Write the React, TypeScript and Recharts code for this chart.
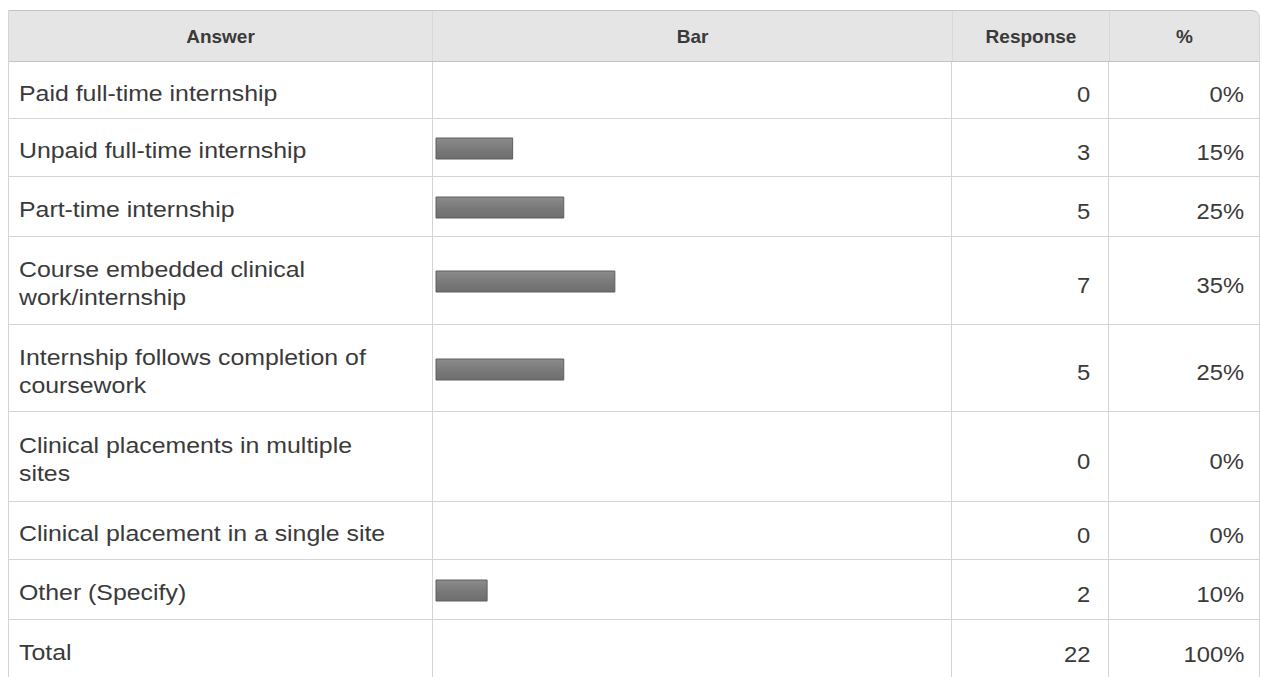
import React from "react";
import { BarChart, Bar, XAxis, YAxis } from "recharts";

const headers = ["Answer", "Bar", "Response", "%"];
const answers = [
  "Paid full-time internship",
  "Unpaid full-time internship",
  "Part-time internship",
  "Course embedded clinical work/internship",
  "Internship follows completion of coursework",
  "Clinical placements in multiple sites",
  "Clinical placement in a single site",
  "Other (Specify)",
];
const responses = [0, 3, 5, 7, 5, 0, 0, 2];
const percents = [0, 15, 25, 35, 25, 0, 0, 10];
const totalLabel = "Total";
const totalResponse = 22;
const totalPercent = 100;

const colWidths = [425, 520, 157, 150];
const rowHeights = [57, 58, 60, 88, 87, 90, 58, 60];
const headerH = 52;
const totalH = 60;
const LINE = "1px solid #d4d4d4";
const TEXT = "#3a3a3a";

const bodyFont: React.CSSProperties = {
  fontFamily: "'Liberation Sans', Arial, sans-serif",
  fontSize: 22,
  color: TEXT,
};

function BarCell({ name, pct, h, idx }: { name: string; pct: number; h: number; idx: number }) {
  const gid = `barGrad${idx}`;
  return (
    <BarChart
      width={colWidths[1]}
      height={h}
      data={[{ name, pct }]}
      layout="vertical"
      margin={{ top: 2, right: 6, left: 3, bottom: 0 }}
    >
      <defs>
        <linearGradient id={gid} x1="0" y1="0" x2="0" y2="1">
          <stop offset="0%" stopColor="#8c8c8c" />
          <stop offset="50%" stopColor="#7a7a7a" />
          <stop offset="100%" stopColor="#6e6e6e" />
        </linearGradient>
      </defs>
      <XAxis type="number" domain={[0, 100]} hide />
      <YAxis type="category" dataKey="name" hide />
      <Bar dataKey="pct" barSize={21} fill={`url(#${gid})`} stroke="#5e5e5e" strokeWidth={1} isAnimationActive={false} />
    </BarChart>
  );
}

function Row({
  label,
  resp,
  pct,
  h,
  idx,
  showBar,
}: {
  label: string;
  resp: string;
  pct: string;
  h: number;
  idx: number;
  showBar: boolean;
}) {
  return (
    <div style={{ display: "flex", height: h, borderBottom: LINE, boxSizing: "border-box" }}>
      <div
        style={{
          width: colWidths[0],
          borderRight: LINE,
          boxSizing: "border-box",
          display: "flex",
          alignItems: "center",
          paddingLeft: 10,
          paddingTop: 7,
        }}
      >
        <div
          style={{
            ...bodyFont,
            width: 334,
            lineHeight: "28px",
            transform: "scaleX(1.13)",
            transformOrigin: "left center",
          }}
        >
          {label}
        </div>
      </div>
      <div style={{ width: colWidths[1], borderRight: LINE, boxSizing: "border-box", overflow: "hidden" }}>
        {showBar ? <BarCell name={label} pct={Number(pct.replace("%", ""))} h={h - 1} idx={idx} /> : null}
      </div>
      <div
        style={{
          width: colWidths[2],
          borderRight: LINE,
          boxSizing: "border-box",
          display: "flex",
          alignItems: "center",
          justifyContent: "flex-end",
          paddingRight: 18,
          paddingTop: 10,
        }}
      >
        <span style={{ ...bodyFont, display: "inline-block", transform: "scaleX(1.08)", transformOrigin: "right center" }}>
          {resp}
        </span>
      </div>
      <div
        style={{
          width: colWidths[3],
          boxSizing: "border-box",
          display: "flex",
          alignItems: "center",
          justifyContent: "flex-end",
          paddingRight: 15,
          paddingTop: 10,
        }}
      >
        <span style={{ ...bodyFont, display: "inline-block", transform: "scaleX(1.08)", transformOrigin: "right center" }}>
          {pct}
        </span>
      </div>
    </div>
  );
}

export default function App() {
  return (
    <div
      style={{
        position: "absolute",
        left: 0,
        top: 0,
        width: 1262,
        height: 677,
        overflow: "hidden",
        background: "#ffffff",
      }}
    >
      <div
        style={{
          position: "absolute",
          left: 8,
          top: 10,
          width: colWidths.reduce((a, b) => a + b, 0),
          borderLeft: LINE,
          borderRight: LINE,
          borderTopRightRadius: 7,
          boxSizing: "border-box",
        }}
      >
        <div
          style={{
            display: "flex",
            height: headerH,
            background: "#e5e5e5",
            borderTop: "1px solid #c4c4c4",
            borderBottom: "1px solid #c4c4c4",
            borderTopRightRadius: 7,
            boxSizing: "border-box",
          }}
        >
          {headers.map((h, i) => (
            <div
              key={h}
              style={{
                width: colWidths[i] - (i === 0 ? 1 : 0) - (i === 3 ? 1 : 0),
                borderRight: i < 3 ? "1px solid #d8d8d8" : "none",
                boxSizing: "border-box",
                display: "flex",
                alignItems: "center",
                justifyContent: "center",
                paddingTop: 2,
                fontFamily: "'Liberation Sans', Arial, sans-serif",
                fontWeight: "bold",
                fontSize: 19,
                color: "#3a3a3a",
              }}
            >
              {h}
            </div>
          ))}
        </div>
        {answers.map((a, i) => (
          <Row
            key={a}
            label={a}
            resp={String(responses[i])}
            pct={`${percents[i]}%`}
            h={rowHeights[i]}
            idx={i}
            showBar={true}
          />
        ))}
        <Row
          label={totalLabel}
          resp={String(totalResponse)}
          pct={`${totalPercent}%`}
          h={totalH}
          idx={99}
          showBar={false}
        />
      </div>
    </div>
  );
}
